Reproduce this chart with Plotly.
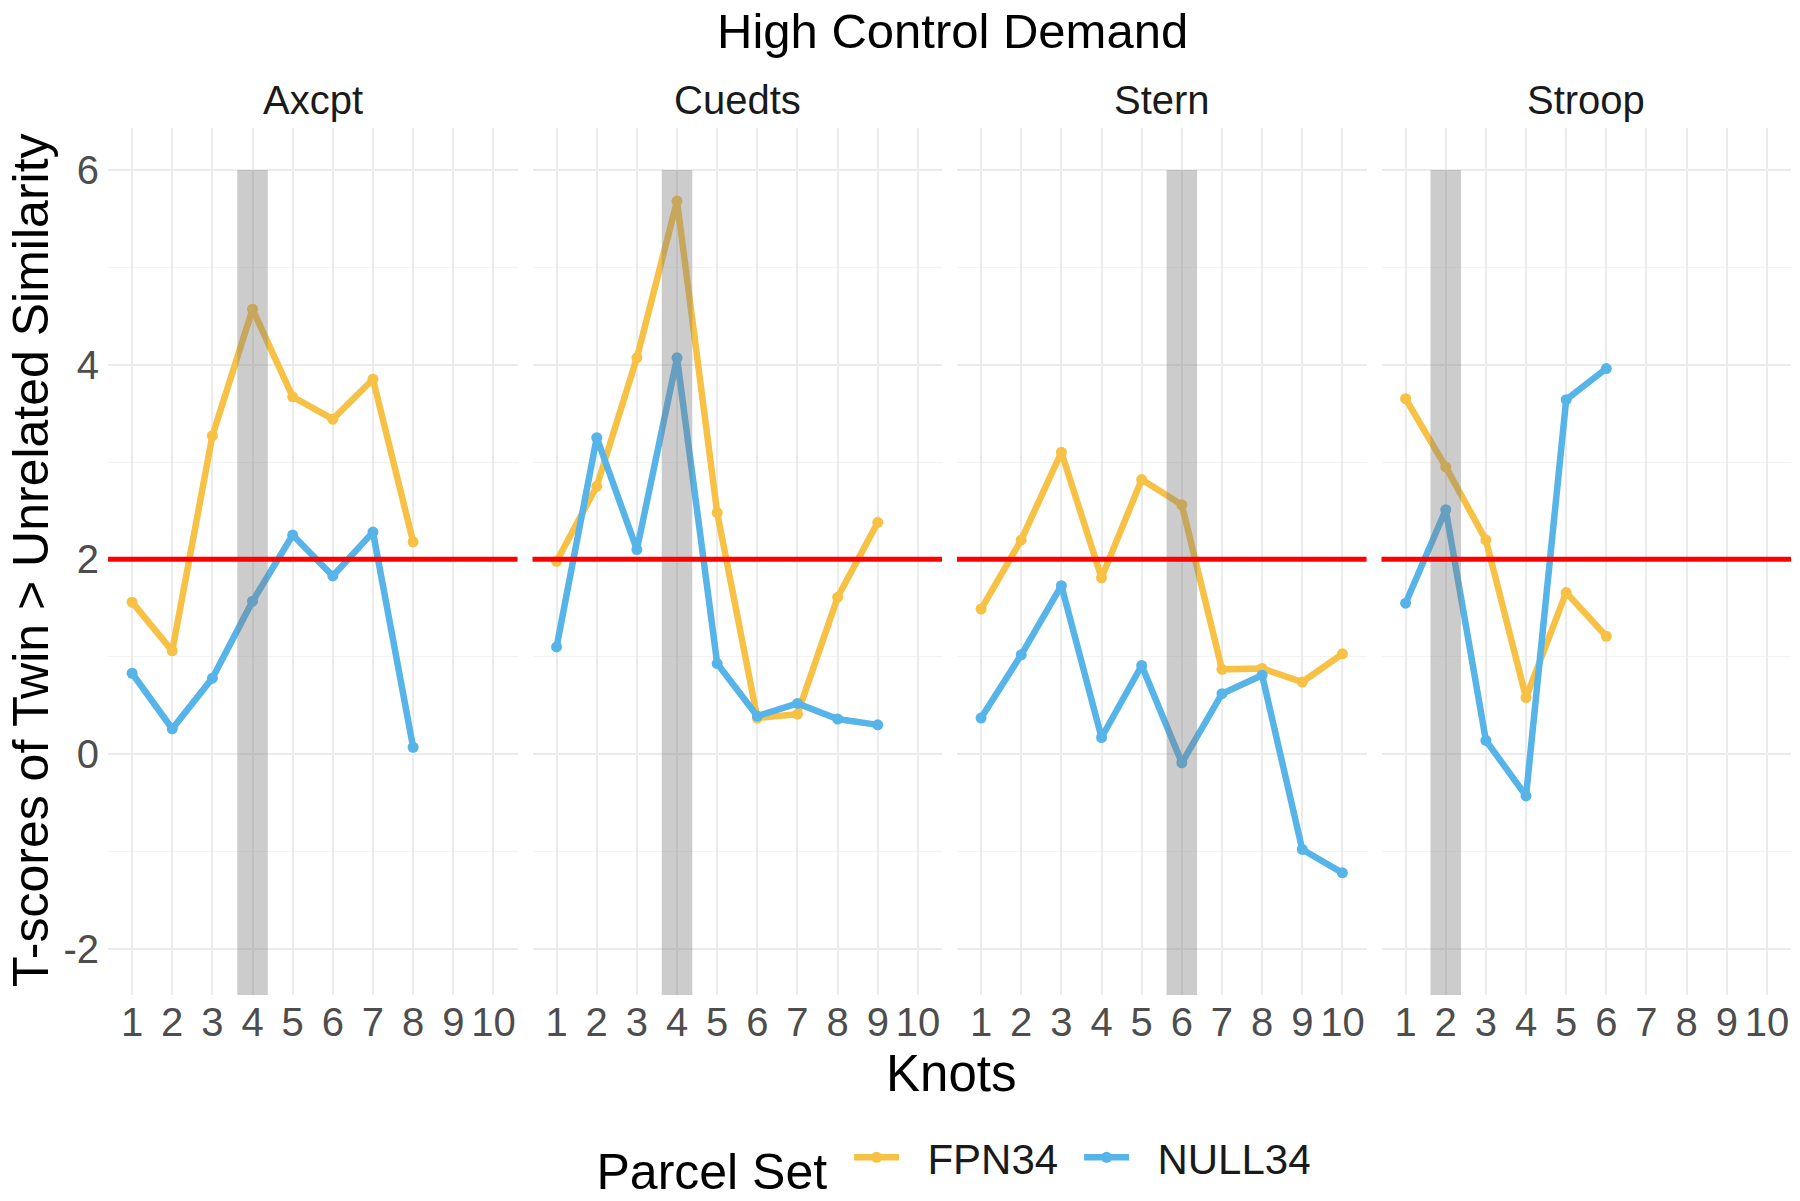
import plotly.graph_objects as go

# ---------------- data ----------------
tasks = ["Axcpt", "Cuedts", "Stern", "Stroop"]
knot_ticks = [1, 2, 3, 4, 5, 6, 7, 8, 9, 10]
y_ticks = [-2, 0, 2, 4, 6]
y_tick_text = ["-2", "0", "2", "4", "6"]

fpn_axcpt = [1.56, 1.06, 3.27, 4.57, 3.67, 3.44, 3.85, 2.18]
null_axcpt = [0.83, 0.26, 0.78, 1.57, 2.25, 1.83, 2.28, 0.07]

fpn_cuedts = [1.98, 2.75, 4.07, 5.68, 2.48, 0.37, 0.41, 1.61, 2.38]
null_cuedts = [1.10, 3.25, 2.10, 4.07, 0.93, 0.39, 0.52, 0.36, 0.30]

fpn_stern = [1.49, 2.20, 3.10, 1.81, 2.82, 2.56, 0.87, 0.88, 0.74, 1.03]
null_stern = [0.37, 1.02, 1.73, 0.17, 0.91, -0.09, 0.62, 0.81, -0.98, -1.22]

fpn_stroop = [3.65, 2.95, 2.20, 0.58, 1.66, 1.21]
null_stroop = [1.55, 2.51, 0.14, -0.43, 3.64, 3.96]

fpn_series = [fpn_axcpt, fpn_cuedts, fpn_stern, fpn_stroop]
null_series = [null_axcpt, null_cuedts, null_stern, null_stroop]
highlight_knot = [4, 4, 6, 2]
threshold = 2

series_names = ["FPN34", "NULL34"]
series_colors = ["#F7C145", "#56B4E9"]

# ---------------- layout helpers ----------------
# the page body has an 8px margin, so the figure is drawn at (8, 8);
# keep the figure small enough that the page never needs scrollbars
OFF = 8
W, H = 1783, 1184
FONT = "Liberation Sans, Arial, sans-serif"
x_range = [0.4, 10.6]
y_range = [-2.475, 6.431]
panel_left = [108, 532.5, 957, 1381.5]
panel_width = 409.5
panel_top, panel_bottom = 128, 995


def px_x(p):
    return min(1.0, max(0.0, (p - OFF) / W))


def px_y(p):
    return min(1.0, max(0.0, 1 - (p - OFF) / H))


fig = go.Figure()

for i, task in enumerate(tasks):
    xa = "x" if i == 0 else f"x{i+1}"
    ya = "y" if i == 0 else f"y{i+1}"
    for name, color, series in zip(series_names, series_colors,
                                   [fpn_series[i], null_series[i]]):
        fig.add_trace(go.Scatter(
            x=knot_ticks[:len(series)], y=series,
            mode="lines+markers", name="  " + name,
            line=dict(color=color, width=6.5),
            marker=dict(color=color, size=11),
            xaxis=xa, yaxis=ya,
            legendgroup=name, showlegend=(i == 0),
        ))

    # highlighted knot band
    fig.add_shape(type="rect", xref=xa, yref=ya,
                  x0=highlight_knot[i] - 0.38, x1=highlight_knot[i] + 0.38,
                  y0=y_range[0], y1=6,
                  fillcolor="rgba(127,127,127,0.4)", line=dict(width=0),
                  layer="above")
    # threshold line
    fig.add_shape(type="line", xref=f"{xa} domain", yref=ya,
                  x0=0, x1=1, y0=threshold, y1=threshold,
                  line=dict(color="#FF0000", width=5), layer="above")

    xkey = "xaxis" if i == 0 else f"xaxis{i+1}"
    ykey = "yaxis" if i == 0 else f"yaxis{i+1}"
    fig.update_layout({
        xkey: dict(
            domain=[px_x(panel_left[i]), px_x(panel_left[i] + panel_width)],
            range=x_range, anchor=ya, automargin=False,
            tickmode="array", tickvals=knot_ticks,
            ticktext=[str(k) for k in knot_ticks],
            showgrid=True, gridcolor="#EBEBEB", gridwidth=2,
            zeroline=False, showline=False, ticks="",
            tickfont=dict(family=FONT, size=40, color="#4D4D4D"),
        ),
        ykey: dict(
            domain=[px_y(panel_bottom), px_y(panel_top)],
            range=y_range, anchor=xa, automargin=False,
            tickmode="array", tickvals=y_ticks, ticktext=y_tick_text,
            showgrid=True, gridcolor="#EBEBEB", gridwidth=2,
            minor=dict(tickmode="array", tickvals=[-1, 1, 3, 5], showgrid=True,
                       gridcolor="#F3F3F3", gridwidth=1.2),
            zeroline=False, showline=False, ticks="",
            showticklabels=(i == 0),
            ticklabelstandoff=8,
            tickfont=dict(family=FONT, size=40, color="#4D4D4D"),
        ),
    })

    fig.add_annotation(text=task, xref="paper", yref="paper",
                       x=px_x(panel_left[i] + panel_width / 2), y=px_y(100),
                       xanchor="center", yanchor="middle", showarrow=False,
                       font=dict(family=FONT, size=40, color="#1A1A1A"))

# titles
fig.add_annotation(text="High Control Demand", xref="paper", yref="paper",
                   x=px_x(952), y=px_y(31), xanchor="center", yanchor="middle",
                   showarrow=False, font=dict(family=FONT, size=49, color="#000000"))
fig.add_annotation(text="Knots", xref="paper", yref="paper",
                   x=px_x(951), y=px_y(1073), xanchor="center", yanchor="middle",
                   showarrow=False, font=dict(family=FONT, size=51, color="#000000"))
fig.add_annotation(text="T-scores of Twin > Unrelated Similarity",
                   xref="paper", yref="paper",
                   x=px_x(31), y=px_y(560), xanchor="center", yanchor="middle",
                   textangle=-90, showarrow=False,
                   font=dict(family=FONT, size=50, color="#000000"))

fig.update_layout(
    width=W, height=H,
    margin=dict(l=0, r=0, t=0, b=0, autoexpand=False),
    plot_bgcolor="white", paper_bgcolor="white",
    font=dict(family=FONT),
    showlegend=True,
    legend=dict(
        orientation="h", x=px_x(952), xanchor="center",
        y=px_y(1161), yanchor="middle",
        title=dict(text="Parcel Set ", font=dict(family=FONT, size=50, color="#000000")),
        font=dict(family=FONT, size=42, color="#1A1A1A"),
        itemwidth=45, entrywidth=170, bgcolor="rgba(0,0,0,0)",
    ),
)

fig.write_html("out.html")
